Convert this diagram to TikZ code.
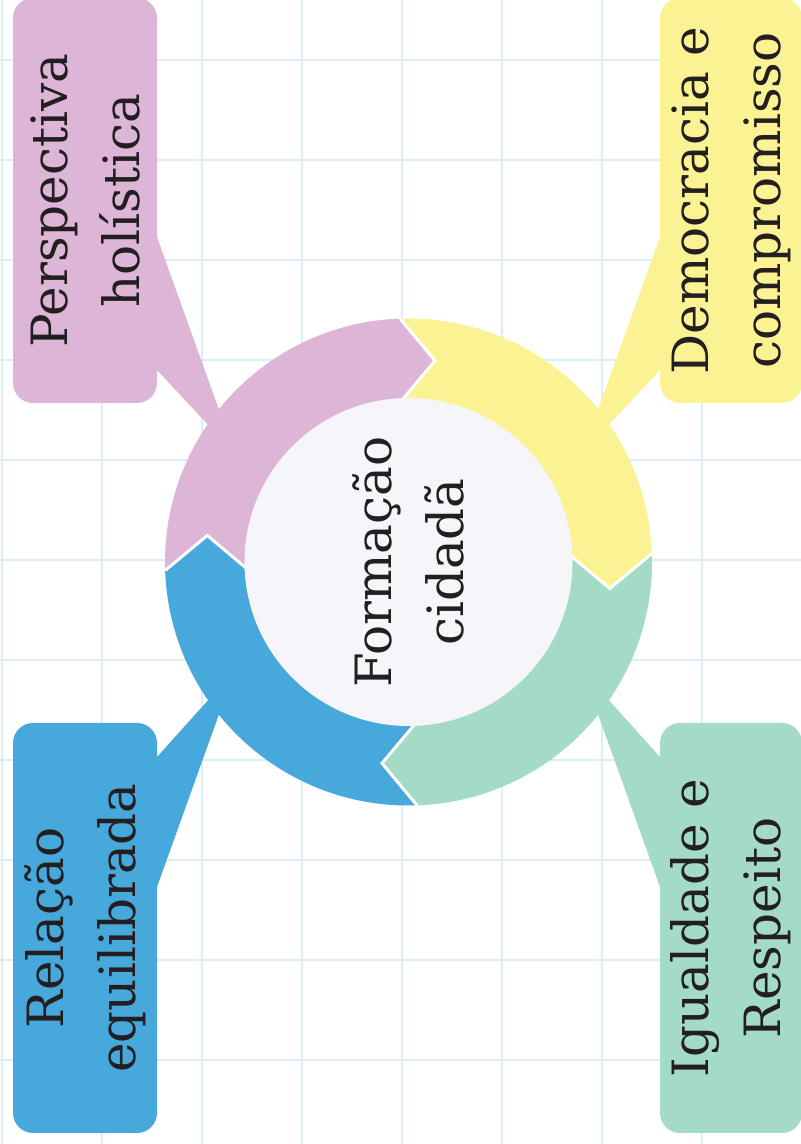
\documentclass[tikz,border=0pt]{standalone}
\usepackage{fontspec}
\setmainfont{DejaVu Serif}
\usetikzlibrary{calc}

\definecolor{rosa}{HTML}{DDB5D7}
\definecolor{amarelo}{HTML}{FBF393}
\definecolor{verde}{HTML}{A4DBC6}
\definecolor{azul}{HTML}{47A8DC}
\definecolor{miolo}{HTML}{F6F5F9}
\definecolor{grade}{HTML}{D9EEF5}
\definecolor{texto}{HTML}{231F20}

\tikzset{
  caixa/.style={rotate=90, rounded corners=20pt, minimum width=405pt,
    minimum height=144pt, inner sep=0pt, align=center, text=texto,
    font=\fontsize{50}{72}\selectfont},
  miolotxt/.style={rotate=90, align=center, text=texto,
    font=\fontsize{50}{72}\selectfont}
}

\begin{document}
\begin{tikzpicture}[x=1pt,y=1pt]
\useasboundingbox (0,0) rectangle (801,1144);
\fill[white] (0,0) rectangle (801,1144);

% squared paper
\foreach \x in {2,102,...,702}{
\draw[grade, line width=2.5pt] (\x,0) -- (\x,1144);
}
\foreach \y in {84,184,...,1084}{
\draw[grade, line width=2.5pt] (0,\y) -- (801,\y);
}

\coordinate (c) at (408.5,582);
\coordinate (pontaP) at ($(c)+(148:205)$);
\coordinate (pontaD) at ($(c)+(32:205)$);
\coordinate (pontaI) at ($(c)+(-32:205)$);
\coordinate (pontaR) at ($(c)+(212:205)$);

% tails of the boxes
\fill[rosa] (140,907) -- (157,907) -- (pontaP) -- (157,774) -- (140,774) -- cycle;
\fill[amarelo] (677,907) -- (660,907) -- (pontaD) -- (660,774) -- (677,774) -- cycle;
\fill[azul] (140,387) -- (157,387) -- (pontaR) -- (157,257) -- (140,257) -- cycle;
\fill[verde] (677,387) -- (660,387) -- (pontaI) -- (660,257) -- (677,257) -- cycle;

% boxes
\node[caixa, fill=rosa] (persp) at (85,943.5) {Perspectiva\\holística};
\node[caixa, fill=amarelo, minimum height=142pt] (democ) at (731,943.5) {Democracia e\\compromisso};
\node[caixa, fill=azul, minimum width=410pt] (relac) at (85,216) {Relação\\equilibrada};
\node[caixa, fill=verde, minimum width=410pt, minimum height=142pt] (igual) at (731,216) {Igualdade e\\Respeito};

% ring of four arrows
\foreach \b/\cor in {182/rosa, 92/amarelo, 2/verde, -88/azul}{
\fill[\cor] ($(c)+(\b:243.5)$) arc[start angle=\b, end angle=\b-90, radius=243.5pt]
  -- ($(c)+(\b-99.5:203)$) -- ($(c)+(\b-90:163)$)
  arc[start angle=\b-90, end angle=\b, radius=163pt]
  -- ($(c)+(\b-9.5:203)$) -- cycle;
}
\foreach \b in {182,92,2,-88}{
\draw[white, line width=3pt] ($(c)+(\b:243.5)$) -- ($(c)+(\b-9.5:203)$) -- ($(c)+(\b:163)$);
}

\fill[miolo] (c) circle (164pt);
\node[miolotxt] (formacao) at (c) {Formação\\cidadã};
\end{tikzpicture}
\end{document}
